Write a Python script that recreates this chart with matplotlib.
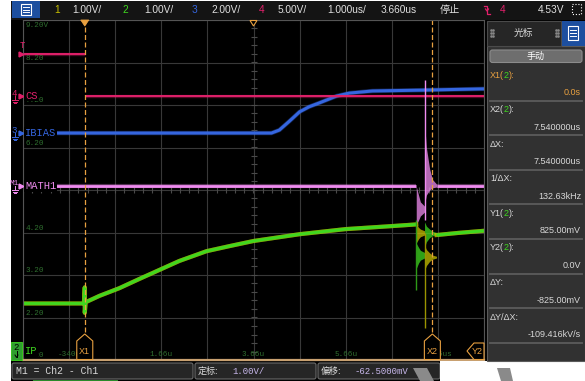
import numpy as np
import matplotlib.pyplot as plt
from matplotlib.patches import Rectangle, Polygon, FancyBboxPatch

plt.rcParams['font.family'] = ['Liberation Sans', 'Noto Sans CJK SC', 'DejaVu Sans']
MONO = ['Liberation Mono', 'Noto Sans CJK SC', 'DejaVu Sans Mono']

W, H = 585, 381

# scope settings (from the status bar / cursor panel)
time_center = 3.66      # us
time_per_div = 1.0      # us/div
x1_time = 0.0
x2_time = 7.54

# traces: time in us, level in screen divisions (0 = centre line)
cs_hi_t = [-1.34, 0.0]
cs_hi_div = [3.20, 3.20]
cs_lo_t = [0.0, 8.66]
cs_lo_div = [2.21, 2.21]

ibias_t = [-1.34, 4.05, 4.22, 4.44, 4.66, 4.87, 5.09, 5.46, 5.74, 6.24, 7.33, 8.66]
ibias_div = [1.34, 1.34, 1.41, 1.62, 1.84, 1.96, 2.05, 2.21, 2.28, 2.33, 2.35, 2.38]

math_t = [-1.34, 7.19]
math_div = [0.09, 0.09]
math_t2 = [7.63, 8.66]
math_div2 = [0.09, 0.09]

ip_t = [-1.34, -0.02, 0.0, 0.0, 0.02, 0.32, 0.75, 1.19, 1.62, 2.05, 2.64, 3.14, 3.66, 4.66, 5.66, 6.65, 7.19]
ip_div = [-2.67, -2.67, -2.29, -2.89, -2.64, -2.49, -2.31, -2.09, -1.88, -1.67, -1.44, -1.32, -1.20, -1.04, -0.92, -0.85, -0.81]
ip_t2 = [7.63, 8.10, 8.66]
ip_div2 = [-1.06, -1.01, -0.96]

# ringing after the switching event (envelopes)
ring1_t = [7.19, 7.24, 7.28, 7.37]
ring2_t = [7.37, 7.41, 7.48, 7.54, 7.63]
math_r1_hi = [0.09, -0.12, -0.28, -0.38]
math_r1_lo = [-0.82, -0.71, -0.61, -0.52]
math_r2_hi = [1.60, 1.00, 0.50, 0.25, 0.14]
math_r2_lo = [-0.35, -0.12, 0.00, 0.05, 0.07]
ip_r1_hi = [-1.25, -1.35, -1.42, -1.47]
ip_r1_lo = [-1.85, -1.72, -1.65, -1.60]
ip_r2_hi = [-0.75, -0.85, -0.92, -0.97, -1.00]
ip_r2_lo = [-1.35, -1.22, -1.12, -1.08, -1.05]
ch1_r1_hi = [-0.80, -0.88, -0.92, -0.96]
ch1_r1_lo = [-1.25, -1.15, -1.10, -1.06]
ch1_r2_hi = [-1.30, -1.40, -1.48, -1.53, -1.56]
ch1_r2_lo = [-1.90, -1.78, -1.68, -1.63, -1.60]
spikes_t = [7.19, 7.37, 7.37]
spikes_lo = [-2.35, -0.71, -3.25]
spikes_hi = [-0.71, 2.59, -1.01]

time_labels = ['-340n', '1.66u', '3.66u', '5.66u', '7.66us']
level_labels = ['9.20V', '8.20', '7.20', '6.20', '5.20', '4.20', '3.20', '2.20', '1.20']

top_items = [('1', 'ch1', 54), ('1.00V/', 'txt', 72), ('2', 'ch2', 122), ('1.00V/', 'txt', 144),
             ('3', 'ch3', 192), ('2.00V/', 'txt', 211), ('4', 'ch4', 259), ('5.00V/', 'txt', 278),
             ('1.000us/', 'txt', 327), ('3.660us', 'txt', 381), ('停止', 'txt', 440),
             ('4', 'ch4', 500), ('4.53V', 'txt', 538)]

cursor_names = ['X1(2):', 'X2(2):', 'ΔX:', '1/ΔX:', 'Y1(2):', 'Y2(2):', 'ΔY:', 'ΔY/ΔX:']
cursor_values = ['0.0s', '7.540000us', '7.540000us', '132.63kHz', '825.00mV', '0.0V', '-825.00mV', '-109.416kV/s']

C = {'ch1': '#c8c000', 'ch2': '#3fd81f', 'ch3': '#3566e0', 'ch4': '#e0206a',
     'math': '#f08cf0', 'txt': '#e0e0e0', 'cur': '#e8a040', 'lvl': '#2f6f2f'}

fig = plt.figure(figsize=(W / 100, H / 100), dpi=100)
fig.patch.set_facecolor('black')

PL, PR, PT, PB = 23, 484, 20, 360
scope = fig.add_axes([PL / W, 1 - PB / H, (PR - PL) / W, (PB - PT) / H], zorder=1)
scope.set_facecolor('black')
t0 = time_center - 5 * time_per_div
scope.set_xlim(t0, t0 + 10 * time_per_div)
scope.set_ylim(-4, 4)
scope.set_xticks([])
scope.set_yticks([])
for s in scope.spines.values():
    s.set_color('#555555')
    s.set_linewidth(0.8)
scope.spines['bottom'].set_color('#c8a070')
scope.spines['bottom'].set_linewidth(1.6)

ui = fig.add_axes([0, 0, 1, 1], zorder=2)
ui.set_xlim(0, W)
ui.set_ylim(H, 0)
ui.axis('off')
ui.patch.set_alpha(0)


def to_px(t, v):
    return ui.transData.inverted().transform(scope.transData.transform((t, v)))


# grid
for k in range(11):
    scope.axvline(t0 + k * time_per_div, color='#383838', lw=0.8, zorder=0)
for k in range(-4, 5):
    scope.axhline(k, color='#383838', lw=0.8, zorder=0)
tick_v = np.arange(-4, 4.01, 0.2)
tick_h = np.arange(t0, t0 + 10.01, 0.2)
scope.plot([time_center] * len(tick_v), tick_v, ls='none', marker='_', ms=4, mew=0.8, color='#4a4a4a', zorder=0)
scope.plot(tick_h, [0] * len(tick_h), ls='none', marker='|', ms=4, mew=0.8, color='#4a4a4a', zorder=0)

# level and time labels
for i, lab in enumerate(level_labels):
    lv = 4 - i
    if i == 0:
        scope.text(t0 + 0.05, lv - 0.05, lab, color=C['lvl'], fontsize=5.5, family=MONO, va='top')
    else:
        scope.text(t0 + 0.05, lv + 0.02, lab, color=C['lvl'], fontsize=5.5, family=MONO, va='bottom')
for k, lab in enumerate(time_labels):
    scope.text(time_center + (2 * k - 4) * time_per_div, -3.86, lab, color=C['lvl'],
               fontsize=5.5, family=MONO, ha='center', va='center')


def trace(t, v, color, lw):
    scope.plot(t, v, color=color, lw=lw + 1.0, alpha=0.35, solid_capstyle='butt')
    scope.plot(t, v, color=color, lw=lw, solid_capstyle='butt')


# ch1 underneath ch2
scope.plot(ip_t, ip_div, color=C['ch1'], lw=3.0, alpha=0.8)
scope.plot(ip_t2, ip_div2, color=C['ch1'], lw=3.0, alpha=0.8)
trace(ip_t, ip_div, C['ch2'], 2.0)
trace(ip_t2, ip_div2, C['ch2'], 2.0)
trace(ibias_t, ibias_div, C['ch3'], 2.2)
trace(cs_hi_t, cs_hi_div, C['ch4'], 1.4)
trace(cs_lo_t, cs_lo_div, C['ch4'], 1.4)
trace(math_t, math_div, C['math'], 2.0)
trace(math_t2, math_div2, C['math'], 2.0)

scope.fill_between(ring1_t, ch1_r1_lo, ch1_r1_hi, color=C['ch1'], lw=0, alpha=0.75)
scope.fill_between(ring2_t, ch1_r2_lo, ch1_r2_hi, color=C['ch1'], lw=0, alpha=0.75)
scope.fill_between(ring1_t, ip_r1_lo, ip_r1_hi, color=C['ch2'], lw=0, alpha=0.75)
scope.fill_between(ring2_t, ip_r2_lo, ip_r2_hi, color=C['ch2'], lw=0, alpha=0.75)
scope.fill_between(ring1_t, math_r1_lo, math_r1_hi, color=C['math'], lw=0, alpha=0.75)
scope.fill_between(ring2_t, math_r2_lo, math_r2_hi, color=C['math'], lw=0, alpha=0.75)
scope.vlines(spikes_t, spikes_lo, spikes_hi, colors=['#2e9a18', C['math'], '#9a9400'], lw=1.0)

# cursors
for xt in (x1_time, x2_time):
    scope.vlines(xt, -3.35, 4, colors=C['cur'], lw=0.9, linestyles=(0, (4, 2)))

# ---------------- UI overlay ----------------
ui.add_patch(Rectangle((0, 0), 11, H, fc='white', lw=0))
ui.add_patch(Rectangle((0, 0), W, 1, fc='white', lw=0))
ui.add_patch(Rectangle((11, 1), W - 11, 19, fc='#141414', lw=0))

# top bar
ui.add_patch(Rectangle((12, 1), 28, 17, fc='#1d4f9f', lw=0))
ui.add_patch(Rectangle((21, 4), 10, 11, fc='none', ec='white', lw=0.8))
for yy in (7, 9.5, 12):
    ui.plot([23, 29], [yy, yy], color='white', lw=0.7)
for s, c, x in top_items:
    ui.text(x, 10, s, color=C[c], fontsize=7.3, va='center')
ui.plot([484, 487, 487, 490], [6, 6, 14, 14], color=C['ch4'], lw=0.9)
ui.plot([485.5, 487, 488.5], [9, 11, 9], color=C['ch4'], lw=0.9)
ui.add_patch(Rectangle((572, 4), 9, 10, fc='none', ec='white', lw=0.8, ls=':'))

# trigger / centre markers at top of graticule
px1 = to_px(x1_time, 0)[0]
px2 = to_px(x2_time, 0)[0]
pcen = to_px(time_center, 0)[0]
ui.add_patch(Polygon([(px1 - 4, 20), (px1 + 4, 20), (px1, 26)], fc=C['cur'], ec=C['cur'], lw=0.6))
ui.add_patch(Polygon([(pcen - 3.5, 20.5), (pcen + 3.5, 20.5), (pcen, 26)], fc='black', ec=C['cur'], lw=0.8))

# cursor labels
for px, lab in ((px1, 'X1'), (px2, 'X2')):
    ui.add_patch(Polygon([(px - 8, 359.5), (px - 8, 341), (px, 334), (px + 8, 341), (px + 8, 359.5)],
                         fc='black', ec=C['cur'], lw=0.8))
    ui.text(px, 351, lab, color=C['cur'], fontsize=6.5, ha='center', va='center')
ui.add_patch(Polygon([(467, 351), (474, 343), (484, 343), (484, 359.5), (474, 359.5)],
                     fc='black', ec=C['cur'], lw=0.8))
ui.text(477.5, 351, 'Y2', color=C['cur'], fontsize=6.5, ha='center', va='center')

# channel markers in left gutter
ui.text(22, 45, 'T', color=C['ch4'], fontsize=6.5, family=MONO, ha='center', va='center')
ui.plot([20.5], [54], marker='>', ms=3.5, color=C['ch4'], ls='none')


def chan_marker(y, num, color, name):
    ui.text(14, y - 3, num, color=color, fontsize=5.5 if len(num) > 1 else 6.5, family=MONO,
            ha='center', va='center')
    ui.plot([15, 15], [y, y + 4], color=color, lw=0.7)
    for i, half in enumerate((3, 2, 1)):
        ui.plot([15 - half, 15 + half], [y + 4 + 1.5 * i, y + 4 + 1.5 * i], color=color, lw=0.7)
    ui.plot([20.5], [y], marker='>', ms=3.5, color=color, ls='none')
    ui.text(25, y - 0.5, name, color=color, fontsize=7.5, family=MONO, va='center',
            bbox=dict(fc='black', ec='none', pad=0.6))


chan_marker(to_px(0, cs_lo_div[0])[1], '4', C['ch4'], 'CS')
chan_marker(to_px(0, ibias_div[0])[1], '3', C['ch3'], 'IBIAS')
chan_marker(to_px(0, math_div[0])[1], 'M1', C['math'], 'MATH1')

ui.add_patch(Rectangle((11, 342), 11, 18, fc='#2f9e2f', ec=C['ch2'], lw=0.6))
ui.text(16.5, 347, '2', color='black', fontsize=6.5, family=MONO, ha='center', va='center')
ui.plot([16.5, 16.5], [351, 357], color='black', lw=0.7)
ui.plot([15, 16.5, 18], [355, 357.5, 355], color='black', lw=0.7)
ui.text(25, 351, 'IP', color=C['ch2'], fontsize=7.5, family=MONO, va='center',
        bbox=dict(fc='black', ec='none', pad=0.6))

# bottom bar
ui.add_patch(FancyBboxPatch((12, 363), 181, 16, boxstyle='round,pad=0,rounding_size=2',
                            fc='#262626', ec='#6a6a6a', lw=0.8))
ui.text(16, 371, 'M1 = Ch2 - Ch1', color='#d8d8d8', fontsize=7, family=MONO, va='center')
ui.add_patch(Rectangle((33, 379.5), 85, 1.5, fc='#2a8a2a', lw=0))
ui.add_patch(FancyBboxPatch((195, 363), 121, 16, boxstyle='round,pad=0,rounding_size=2',
                            fc='#262626', ec='#6a6a6a', lw=0.8))
ui.text(198, 371, '定标:', color='#e0e0e0', fontsize=6.5, va='center')
ui.text(232, 371, '1.00V/', color='#c8b8ec', fontsize=6.5, family=MONO, va='center')
ui.add_patch(FancyBboxPatch((318, 363), 122, 16, boxstyle='round,pad=0,rounding_size=2',
                            fc='#262626', ec='#6a6a6a', lw=0.8))
ui.text(321, 371, '偏移:', color='#e0e0e0', fontsize=6.5, va='center')
ui.text(355, 371, '-62.5000mV', color='#c8b8ec', fontsize=6.5, family=MONO, va='center')
ui.add_patch(Rectangle((440, 361), W - 440, H - 361, fc='white', lw=0))
ui.add_patch(Polygon([(413, 368), (427, 368), (434, 381), (420, 381)], fc='#8a8a8a', lw=0))
ui.add_patch(Polygon([(497, 368), (510, 368), (513, 381), (501, 381)], fc='#8a8a8a', lw=0))

# cursor panel
ui.add_patch(Rectangle((486.5, 46), W - 486.5, 315, fc='#313131', ec='#5a5a5a', lw=0.8))
ui.add_patch(Rectangle((486.5, 21), 74.5, 25, fc='#262626', ec='#4a4a4a', lw=0.8))
ui.text(523, 33, '光标', color='#d8d8d8', fontsize=7, ha='center', va='center')
for gx in (491, 556):
    for gy in (30, 33, 36):
        ui.plot([gx, gx + 2], [gy, gy], ls='none', marker='s', ms=0.8, color='#888888')
ui.add_patch(Rectangle((562, 21), 23, 25, fc='#1d4f9f', lw=0))
ui.add_patch(Rectangle((568, 26), 10, 14, fc='none', ec='white', lw=0.8))
for yy in (30, 33, 36):
    ui.plot([570, 576], [yy, yy], color='white', lw=0.7)
ui.add_patch(FancyBboxPatch((490, 50), 92, 12.5, boxstyle='round,pad=0,rounding_size=2.5',
                            fc='#6e6e6e', ec='#8c8c8c', lw=0.8))
ui.text(536, 56.5, '手动', color='white', fontsize=6.5, ha='center', va='center')


def chain(x, y, parts, size):
    t = ui.text(x, y, parts[0][0], color=parts[0][1], fontsize=size, va='center')
    for s, c in parts[1:]:
        t = ui.annotate(s, xy=(1, 0), xycoords=t, va='bottom', ha='left', color=c, fontsize=size)


for i, (name, val) in enumerate(zip(cursor_names, cursor_values)):
    ly = 75 + 34.6 * i
    base = C['cur'] if i == 0 else '#d8d8d8'
    if '(2)' in name:
        head, tail = name.split('(2)')
        chain(490, ly, [(head + '(', base), ('2', C['ch2']), (')' + tail, base)], 6.5)
    else:
        ui.text(490, ly, name, color=base, fontsize=6.5, va='center')
    ui.text(581, ly + 17.5, val, color=base, fontsize=6.5, ha='right', va='center')
    ui.plot([490, 582], [ly + 25.5, ly + 25.5], color='#5c5c5c', lw=1.3)

fig.savefig('out.png', dpi=100, facecolor=fig.get_facecolor())
